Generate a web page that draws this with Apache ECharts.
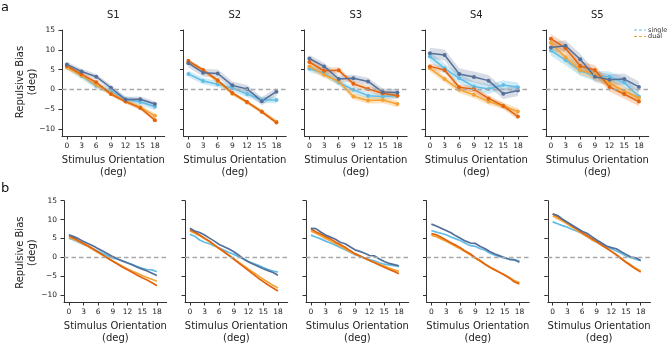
<!DOCTYPE html>
<html>
<head>
<meta charset="utf-8">
<script src="https://cdn.jsdelivr.net/npm/echarts@6/dist/echarts.min.js"></script>
<style>
html, body { margin: 0; padding: 0; background: #fff; }
#chart { width: 669px; height: 346px; }
</style>
</head>
<body>
<div id="chart"></div>
<script>
var subjects = ['S1', 'S2', 'S3', 'S4', 'S5'];
var xTicks = [0, 3, 6, 9, 12, 15, 18];
var yTicks = [-10, -5, 0, 5, 10, 15];

// row a: binned data, one list per subject
var xBins = [0, 3, 6, 9, 12, 15, 18];
var binSingleLight = [
    [5.8, 3.4, 0.9, -0.4, -2.6, -3.2, -4.4],
    [3.9, 2.1, 1.3, 0.3, -1.2, -2.7, -2.7],
    [5.2, 4.1, 1.7, -0.1, -1.6, -1.8, -1.6],
    [8.3, 5.3, 2.8, 0.7, 0.1, 1.1, 0.5],
    [9.8, 7.4, 4.7, 3.4, 3.2, 1.7, -1.8]
];
var binSingleDark = [
    [6.3, 4.5, 3.2, 0.4, -2.6, -2.5, -3.7],
    [6.6, 4.2, 4.0, 1.0, 0.1, -3.0, -0.6],
    [7.8, 5.8, 2.6, 2.8, 2.0, -0.7, -0.8],
    [9.1, 8.7, 3.9, 3.1, 2.2, -1.1, -0.3],
    [10.6, 11.0, 7.6, 3.2, 2.4, 2.6, 0.6]
];
var binDualLight = [
    [5.5, 3.5, 1.1, -1.0, -3.0, -4.5, -6.7],
    [6.8, 4.8, 2.0, -1.1, -3.3, -5.6, -8.2],
    [5.8, 3.7, 2.0, -1.8, -2.8, -2.7, -3.7],
    [5.3, 2.6, -0.1, -1.4, -3.1, -4.2, -5.6],
    [11.7, 8.1, 4.9, 3.7, 1.6, -0.5, -2.2]
];
var binDualDark = [
    [5.9, 3.8, 1.8, -1.2, -3.1, -4.7, -7.8],
    [7.2, 4.9, 2.3, -0.9, -3.2, -5.7, -8.4],
    [6.9, 4.7, 4.8, 1.4, 0.1, -1.0, -1.6],
    [5.8, 4.9, 0.5, 0.0, -2.3, -4.2, -6.9],
    [12.8, 10.4, 5.9, 4.9, 0.6, -1.2, -3.1]
];
// half widths of the shaded bands
var ciSingleLight = [0.8, 0.8, 0.8, 1.2, 1.3];
var ciSingleDark = [0.7, 1.0, 0.9, 1.4, 1.4];
var ciDualLight = [0.6, 0.5, 0.8, 0.8, 1.2];
var ciDualDark = [0.5, 0.4, 0.8, 0.8, 1.2];

// row b: model curves
var xFine = [0, 1, 2, 3, 4, 5, 6, 7, 8, 9, 10, 11, 12, 13, 14, 15, 16, 17, 18];
var fitSingleLight = [
    [5.1, 4.6, 4.0, 3.4, 2.9, 2.2, 1.6, 1.0, 0.4, -0.2, -0.5, -0.9, -1.4, -1.9, -2.4, -2.9, -3.2, -3.3, -3.8],
    [6.1, 5.6, 4.6, 4.0, 3.6, 3.0, 2.5, 1.9, 1.3, 0.8, 0.2, -0.5, -1.1, -1.6, -2.1, -2.7, -3.2, -3.6, -3.9],
    [5.9, 5.4, 4.9, 4.3, 3.8, 3.2, 2.6, 2.0, 1.4, 0.7, 0.3, -0.2, -0.6, -0.9, -1.4, -1.8, -2.0, -2.2, -2.4],
    [7.1, 6.7, 6.4, 6.0, 5.4, 4.9, 4.4, 3.7, 3.1, 2.9, 2.3, 1.9, 1.1, 0.6, 0.2, -0.2, -0.5, -0.7, -0.9],
    [9.4, 8.9, 8.4, 8.0, 7.4, 6.9, 6.3, 5.5, 4.7, 4.0, 3.4, 2.8, 2.3, 1.7, 1.1, 0.4, -0.1, -0.5, -0.9]
];
var fitSingleDark = [
    [6.0, 5.5, 4.9, 4.2, 3.6, 3.0, 2.3, 1.6, 0.9, 0.2, -0.4, -1.0, -1.5, -2.0, -2.6, -3.1, -3.6, -4.2, -4.8],
    [7.7, 7.0, 6.6, 5.9, 5.1, 4.3, 3.4, 2.8, 2.2, 1.5, 0.6, -0.4, -1.2, -1.8, -2.4, -3.0, -3.5, -4.0, -4.7],
    [7.7, 7.6, 6.7, 5.9, 5.4, 4.8, 4.0, 3.6, 2.8, 2.0, 1.6, 1.1, 0.5, 0.4, -0.4, -1.1, -1.6, -1.9, -2.2],
    [8.8, 8.3, 7.7, 7.1, 6.5, 5.7, 5.0, 4.3, 3.8, 3.7, 2.9, 2.3, 1.5, 0.9, 0.4, -0.1, -0.5, -0.6, -1.3],
    [11.5, 11.1, 10.1, 9.3, 8.5, 7.7, 6.9, 6.4, 5.5, 4.6, 3.8, 3.0, 2.6, 2.3, 1.5, 0.8, 0.1, -0.1, -0.8]
];
var fitDualLight = [
    [5.3, 4.8, 4.2, 3.5, 2.8, 2.0, 1.2, 0.5, -0.3, -1.0, -1.7, -2.4, -3.1, -3.7, -4.2, -4.8, -5.3, -5.8, -6.3],
    [7.0, 6.4, 5.7, 4.9, 4.1, 3.2, 2.3, 1.4, 0.5, -0.4, -1.3, -2.2, -3.1, -4.0, -4.9, -5.8, -6.6, -7.4, -8.1],
    [7.0, 6.4, 5.7, 5.0, 4.4, 3.7, 3.0, 2.3, 1.5, 0.9, 0.3, -0.2, -0.8, -1.3, -1.8, -2.3, -2.8, -3.3, -3.7],
    [5.9, 5.5, 4.9, 4.3, 3.6, 2.9, 2.2, 1.4, 0.6, -0.2, -1.0, -1.9, -2.7, -3.4, -4.0, -4.6, -5.4, -6.2, -6.6],
    [11.0, 10.3, 9.6, 8.8, 8.0, 7.1, 6.3, 5.5, 4.7, 4.0, 3.2, 2.4, 1.6, 0.7, -0.3, -1.2, -2.0, -2.9, -3.6]
];
var fitDualDark = [
    [5.7, 5.1, 4.4, 3.7, 3.0, 2.2, 1.4, 0.6, -0.2, -1.0, -1.8, -2.6, -3.3, -4.0, -4.7, -5.4, -6.0, -6.7, -7.5],
    [7.4, 6.7, 5.9, 5.1, 4.3, 3.3, 2.4, 1.5, 0.5, -0.5, -1.5, -2.5, -3.5, -4.5, -5.5, -6.4, -7.3, -8.1, -8.9],
    [7.5, 6.8, 6.2, 5.5, 4.9, 4.1, 3.4, 2.7, 1.8, 1.0, 0.4, -0.2, -0.8, -1.4, -2.0, -2.6, -3.2, -3.7, -4.3],
    [6.3, 6.0, 5.3, 4.6, 3.9, 3.2, 2.5, 1.6, 0.9, -0.1, -0.9, -1.8, -2.6, -3.3, -4.0, -4.7, -5.5, -6.5, -7.0],
    [11.5, 10.8, 10.0, 9.2, 8.3, 7.5, 6.6, 5.8, 5.0, 4.2, 3.3, 2.5, 1.6, 0.7, -0.3, -1.3, -2.2, -3.1, -3.9]
];

var FONT = 'DejaVu Sans';
var colSingleLight = '#62bde6';
var colSingleDark = '#54709a';
var colDualLight = '#f4a233';
var colDualDark = '#e1640f';

var chart = echarts.init(document.getElementById('chart'));

var gridTops = [30, 200.7];
var gridLefts = [[62, 183.5, 304.5, 425, 546], [64, 185, 306, 426.5, 547.8]];
var gridW = 102.7, gridH = 106;

function pairs(xs, ys) {
    var out = [];
    for (var i = 0; i < xs.length; i++) {
        out.push([xs[i], ys[i]]);
    }
    return out;
}

function band(gi, xs, ys, hw, fill) {
    return {
        type: 'custom',
        xAxisIndex: gi,
        yAxisIndex: gi,
        silent: true,
        z: 1,
        data: [[xs[0], ys[0]]],
        renderItem: function (params, api) {
            var pts = [];
            for (var i = 0; i < xs.length; i++) pts.push(api.coord([xs[i], ys[i] + hw]));
            for (var j = xs.length - 1; j >= 0; j--) pts.push(api.coord([xs[j], ys[j] - hw]));
            return {type: 'polygon', shape: {points: pts}, style: {fill: fill}};
        }
    };
}

function line(gi, xs, ys, color, dots) {
    return {
        type: 'line',
        xAxisIndex: gi,
        yAxisIndex: gi,
        data: pairs(xs, ys),
        symbol: 'circle',
        symbolSize: 4,
        showSymbol: dots,
        color: color,
        lineStyle: {width: dots ? 1.5 : 1.7, color: color},
        itemStyle: {color: color},
        z: 3,
        silent: true
    };
}

var grids = [], xAxes = [], yAxes = [], series = [], graphics = [];

for (var row = 0; row < 2; row++) {
    for (var c = 0; c < 5; c++) {
        var gi = row * 5 + c;
        grids.push({left: gridLefts[row][c], top: gridTops[row], width: gridW, height: gridH});
        xAxes.push({
            gridIndex: gi, type: 'value', min: -1, max: 20,
            axisLine: {show: true, onZero: false, lineStyle: {color: '#333', width: 1}},
            axisTick: {show: true, length: 3.5, customValues: xTicks, lineStyle: {color: '#333'}},
            axisLabel: {customValues: xTicks, fontSize: 7.5, color: '#222', margin: 6, fontFamily: FONT},
            splitLine: {show: false},
            name: 'Stimulus Orientation\n(deg)', nameLocation: 'middle', nameGap: 18,
            nameTextStyle: {fontSize: 10, lineHeight: 12.5, color: '#222', fontFamily: FONT}
        });
        yAxes.push({
            gridIndex: gi, type: 'value', min: -11.8, max: 15,
            axisLine: {show: true, onZero: false, lineStyle: {color: '#333', width: 1}},
            axisTick: {show: true, length: 3.5, customValues: yTicks, lineStyle: {color: '#333'}},
            axisLabel: {
                show: c === 0, customValues: yTicks, fontSize: 7.5, color: '#222', margin: 7, fontFamily: FONT,
                formatter: function (v) { return String(v).replace('-', '\u2212'); }
            },
            splitLine: {show: false}
        });

        var zero = {
            silent: true, symbol: 'none', label: {show: false},
            lineStyle: {type: [4.5, 3], color: '#a8a8a8', width: 1.3},
            data: [{yAxis: 0}]
        };

        if (row === 0) {
            series.push(band(gi, xBins, binSingleLight[c], ciSingleLight[c], 'rgba(98,189,230,0.32)'));
            series.push(band(gi, xBins, binSingleDark[c], ciSingleDark[c], 'rgba(110,128,160,0.28)'));
            series.push(band(gi, xBins, binDualLight[c], ciDualLight[c], 'rgba(244,162,51,0.32)'));
            series.push(band(gi, xBins, binDualDark[c], ciDualDark[c], 'rgba(225,100,15,0.25)'));
            var first = line(gi, xBins, binSingleLight[c], colSingleLight, true);
            first.markLine = zero;
            series.push(first);
            series.push(line(gi, xBins, binDualLight[c], colDualLight, true));
            series.push(line(gi, xBins, binDualDark[c], colDualDark, true));
            series.push(line(gi, xBins, binSingleDark[c], colSingleDark, true));
            graphics.push({
                type: 'text', x: gridLefts[row][c] + gridW / 2, y: 15,
                style: {text: subjects[c], fontSize: 10, fontFamily: FONT, fill: '#222', textAlign: 'center', textVerticalAlign: 'middle'}
            });
        } else {
            var f = line(gi, xFine, fitSingleLight[c], colSingleLight, false);
            f.markLine = zero;
            series.push(f);
            series.push(line(gi, xFine, fitDualLight[c], colDualLight, false));
            series.push(line(gi, xFine, fitDualDark[c], colDualDark, false));
            series.push(line(gi, xFine, fitSingleDark[c], colSingleDark, false));
        }
    }
    graphics.push({
        type: 'text', x: 26.5, y: gridTops[row] + gridH / 2 - 1, rotation: Math.PI / 2,
        style: {text: 'Repulsive Bias\n(deg)', fontSize: 10, lineHeight: 11.5, fontFamily: FONT, fill: '#222', textAlign: 'center', textVerticalAlign: 'middle'}
    });
}

graphics.push({type: 'text', x: 1, y: 8, style: {text: 'a', fontSize: 13, fontFamily: FONT, fill: '#111', textVerticalAlign: 'middle'}});
graphics.push({type: 'text', x: 1, y: 189, style: {text: 'b', fontSize: 13, fontFamily: FONT, fill: '#111', textVerticalAlign: 'middle'}});

// legend (single / dual)
graphics.push({type: 'line', shape: {x1: 634, y1: 30, x2: 646, y2: 30}, style: {stroke: colSingleLight, lineWidth: 1.2, lineDash: [3, 2]}});
graphics.push({type: 'text', x: 648, y: 30, style: {text: 'single', fontSize: 6.5, fontFamily: FONT, fill: '#333', textVerticalAlign: 'middle'}});
graphics.push({type: 'line', shape: {x1: 634, y1: 36.5, x2: 646, y2: 36.5}, style: {stroke: colDualLight, lineWidth: 1.2, lineDash: [3, 2]}});
graphics.push({type: 'text', x: 648, y: 36.5, style: {text: 'dual', fontSize: 6.5, fontFamily: FONT, fill: '#333', textVerticalAlign: 'middle'}});

chart.setOption({
    animation: false,
    grid: grids,
    xAxis: xAxes,
    yAxis: yAxes,
    series: series,
    graphic: graphics
});

window.addEventListener('resize', function () {
    chart.resize();
});
</script>
</body>
</html>
